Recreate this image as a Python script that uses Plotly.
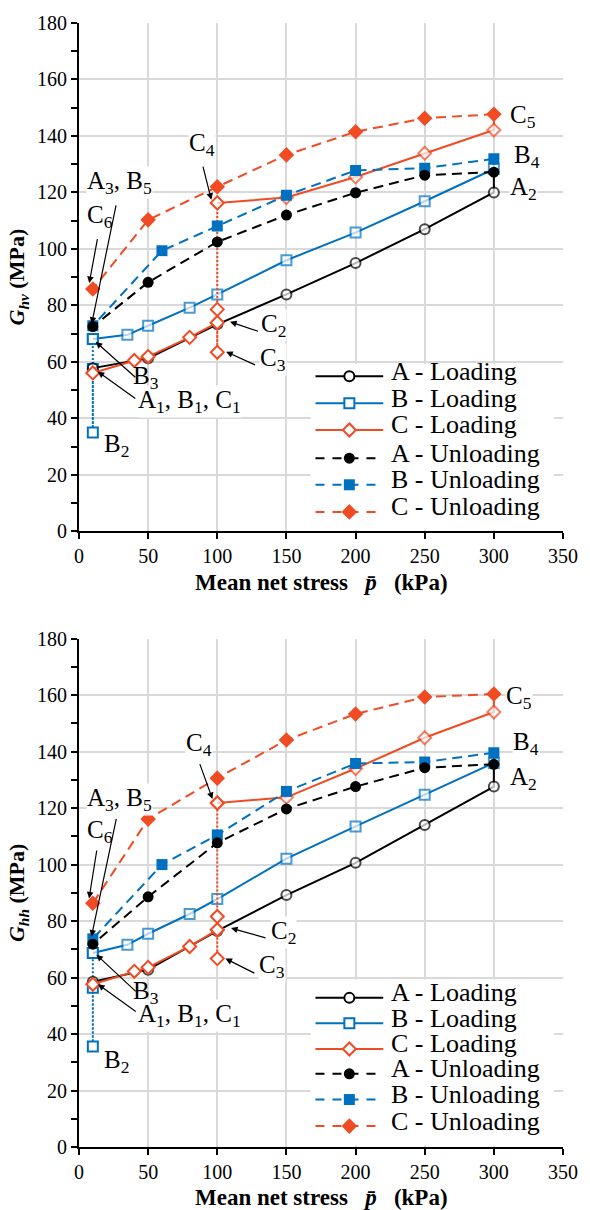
import plotly.graph_objects as go

FONT = "Liberation Serif, Times New Roman, serif"
BLACK = "#000000"
BLUE = "#0070C0"
RED = "#F04B23"
GRID = "#D9D9D9"
DASH = "10px,6px"

# ---- mean net stress (kPa) along each stress path ----
p_A_load = [10, 50, 100, 150, 200, 250, 300]
p_A_unload = [300, 250, 200, 150, 100, 50, 10]
p_B_load = [10, 35, 50, 80, 100, 150, 200, 250, 300]
p_B_unload = [300, 250, 200, 150, 100, 60, 10]
p_C_load = [10, 40, 50, 80, 100]
p_C_reload = [100, 150, 200, 250, 300]
p_C_unload = [300, 250, 200, 150, 100, 50, 10]
p_B_step = 10     # B1 -> B2 -> B3 at constant mean net stress
p_C_step = 100    # C2 -> C3 -> C4 at constant mean net stress

# ---- G_hv (MPa) ----
Ghv_A_load = [57.8, 61.3, 73.3, 83.9, 95.0, 107.0, 120.0]
Ghv_A_unload = [127.2, 126.1, 119.9, 112.0, 102.5, 88.2, 72.5]
Ghv_B_load = [68.1, 69.6, 72.8, 79.2, 83.9, 96.0, 105.8, 116.9, 128.3]
Ghv_B_unload = [131.9, 128.6, 127.8, 119.0, 108.1, 99.4, 72.8]
Ghv_B_step = [57.5, 35.0]             # B1, B2
Ghv_C_load = [56.1, 60.5, 61.9, 68.7, 73.9]
Ghv_C_step = [63.4, 78.6]             # C3, intermediate
Ghv_C_reload = [116.3, 118.2, 125.5, 133.9, 142.1]
Ghv_C_unload = [147.7, 146.3, 141.5, 133.3, 122.0, 110.3, 85.8]

# ---- G_hh (MPa) ----
Ghh_A_load = [58.5, 62.8, 76.5, 89.2, 100.6, 114.0, 127.6]
Ghh_A_unload = [135.5, 134.3, 127.6, 119.7, 107.7, 88.6, 71.8]
Ghh_B_load = [68.7, 71.6, 75.5, 82.5, 87.8, 102.1, 113.5, 124.7, 136.0]
Ghh_B_unload = [139.6, 136.3, 135.8, 125.9, 110.5, 100.0, 73.7]
Ghh_B_step = [56.4, 35.6]
Ghh_C_load = [57.6, 62.2, 63.6, 71.0, 76.9]
Ghh_C_step = [66.7, 81.6]
Ghh_C_reload = [121.8, 123.8, 134.0, 144.9, 154.0]
Ghh_C_unload = [160.4, 159.3, 153.3, 144.1, 130.6, 116.1, 86.3]

x_ticks = [0, 50, 100, 150, 200, 250, 300, 350]
y_ticks = [0, 20, 40, 60, 80, 100, 120, 140, 160, 180]

legend_names = ["A - Loading", "B - Loading", "C - Loading",
                "A - Unloading", "B - Unloading", "C - Unloading"]

fig = go.Figure()


def open_marker(symbol, color, size):
    return dict(symbol=symbol, size=size, color="white",
                line=dict(color=color, width=2))


def solid_marker(symbol, color, size):
    return dict(symbol=symbol, size=size, color=color, line=dict(width=0))


STYLE = {
    "A_load": (BLACK, "solid", open_marker("circle", BLACK, 10)),
    "B_load": (BLUE, "solid", open_marker("square", BLUE, 10)),
    "C_load": (RED, "solid", open_marker("diamond", RED, 10)),
    "A_unload": (BLACK, DASH, solid_marker("circle", BLACK, 11)),
    "B_unload": (BLUE, DASH, solid_marker("square", BLUE, 11)),
    "C_unload": (RED, DASH, solid_marker("diamond", RED, 12)),
}


def series(xa, ya, x, y, key, dash=None, mode="lines+markers", sizes=None):
    color, d, marker = STYLE[key]
    marker = dict(marker)
    if sizes is not None:
        marker["size"] = sizes
    fig.add_trace(go.Scatter(
        x=x, y=y, mode=mode, xaxis=xa, yaxis=ya,
        line=dict(color=color, width=2, dash=dash or d),
        marker=marker, showlegend=False, hoverinfo="skip"))


def panel(xa, ya, d):
    # B path: B1 -> B2 -> B3 (dotted), then loading to 300 kPa
    series(xa, ya, [p_B_step] * 3, d["B_step"] + [d["B_load"][0]], "B_load", dash="2px,2px")
    n = len(p_B_load)
    series(xa, ya, p_B_load + [p_B_unload[0]], d["B_load"] + [d["B_unload"][0]], "B_load",
           sizes=[10] * n + [0])
    # A path
    n = len(p_A_load)
    series(xa, ya, p_A_load + [p_A_unload[0]], d["A_load"] + [d["A_unload"][0]], "A_load",
           sizes=[10] * n + [0])
    # C path: loading to C2, step C2 -> C3 -> C4 (dotted), reloading to 300 kPa
    series(xa, ya, p_C_load, d["C_load"], "C_load")
    step_y = [d["C_load"][-1]] + d["C_step"] + [d["C_reload"][0]]
    series(xa, ya, [p_C_step] * len(step_y), step_y, "C_load", dash="2px,2px")
    n = len(p_C_reload)
    series(xa, ya, p_C_reload + [p_C_unload[0]], d["C_reload"] + [d["C_unload"][0]], "C_load",
           sizes=[10] * n + [0])
    # unloading paths
    series(xa, ya, p_C_unload, d["C_unload"], "C_unload")
    series(xa, ya, p_B_unload, d["B_unload"], "B_unload")
    series(xa, ya, p_A_unload, d["A_unload"], "A_unload")


def key_box(xa, ya, rows):
    # white panel behind the key
    fig.add_trace(go.Scatter(
        x=[167.5, 343.5, 343.5, 167.5, 167.5], y=[0.5, 0.5, 59.3, 59.3, 0.5],
        fill="toself", fillcolor="white", mode="lines", line=dict(width=0),
        xaxis=xa, yaxis=ya, showlegend=False, hoverinfo="skip"))
    keys = ["A_load", "B_load", "C_load", "A_unload", "B_unload", "C_unload"]
    for key, name, yr in zip(keys, legend_names, rows):
        color, d, marker = STYLE[key]
        fig.add_trace(go.Scatter(
            x=[171, 220], y=[yr, yr], mode="lines", xaxis=xa, yaxis=ya,
            line=dict(color=color, width=2, dash="9px,8px" if d != "solid" else "solid"),
            showlegend=False, hoverinfo="skip"))
        fig.add_trace(go.Scatter(
            x=[195.5], y=[yr], mode="markers", xaxis=xa, yaxis=ya, marker=marker,
            showlegend=False, hoverinfo="skip"))
        fig.add_annotation(xref=xa, yref=ya, x=224.5, y=yr, yshift=5, text=name,
                           showarrow=False, xanchor="left", yanchor="middle",
                           font=dict(family=FONT, size=26, color=BLACK))


def label(xa, ya, x, y, text, bg=True):
    fig.add_annotation(xref=xa, yref=ya, x=x, y=y, yshift=7, text=text, showarrow=False,
                       xanchor="left", yanchor="middle",
                       bgcolor="white" if bg else "rgba(0,0,0,0)", borderpad=0,
                       font=dict(family=FONT, size=25, color=BLACK))


def arrow(xa, ya, tail, head):
    fig.add_annotation(xref=xa, yref=ya, axref=xa, ayref=ya,
                       x=head[0], y=head[1], ax=tail[0], ay=tail[1], text="",
                       showarrow=True, arrowhead=2, arrowsize=1.1, arrowwidth=1.2,
                       arrowcolor=BLACK)


top = dict(A_load=Ghv_A_load, A_unload=Ghv_A_unload, B_load=Ghv_B_load,
           B_unload=Ghv_B_unload, B_step=Ghv_B_step, C_load=Ghv_C_load,
           C_step=Ghv_C_step, C_reload=Ghv_C_reload, C_unload=Ghv_C_unload)
bottom = dict(A_load=Ghh_A_load, A_unload=Ghh_A_unload, B_load=Ghh_B_load,
              B_unload=Ghh_B_unload, B_step=Ghh_B_step, C_load=Ghh_C_load,
              C_step=Ghh_C_step, C_reload=Ghh_C_reload, C_unload=Ghh_C_unload)

panel("x", "y", top)
panel("x2", "y2", bottom)
key_box("x", "y", [54.9, 45.4, 35.9, 25.9, 16.5, 6.9])
key_box("x2", "y2", [52.8, 43.8, 34.7, 25.9, 16.8, 7.4])

# point labels (text with white backing drawn first, plain text after)
labels_hv = [(78.7, 134.6, "C<sub>4</sub>", True), (5.0, 120.9, "A<sub>3</sub>, B<sub>5</sub>", True),
             (5.0, 109.0, "C<sub>6</sub>", True), (131.2, 70.5, "C<sub>2</sub>", True),
             (130.5, 58.3, "C<sub>3</sub>", True),
             (41.8, 43.6, "A<sub>1</sub>, B<sub>1</sub>, C<sub>1</sub>", True),
             (38.3, 52.0, "B<sub>3</sub>", False),
             (17.0, 27.9, "B<sub>2</sub>", True), (310.6, 144.5, "C<sub>5</sub>", True),
             (314.2, 130.1, "B<sub>4</sub>", True), (311.3, 118.8, "A<sub>2</sub>", True)]
arrows_hv = [((89.4, 129.7), (95.7, 117.4)), ((13.5, 104.0), (7.4, 87.9)),
             ((27.0, 116.0), (9.2, 73.5)), ((130.5, 70.7), (109.2, 74.2)),
             ((128.4, 58.7), (106.4, 63.6)), ((41.8, 54.1), (12.1, 67.1)),
             ((41.8, 46.7), (13.5, 56.6))]
labels_hh = [(76.4, 140.0, "C<sub>4</sub>", True), (5.0, 120.6, "A<sub>3</sub>, B<sub>5</sub>", True),
             (5.0, 109.2, "C<sub>6</sub>", True), (137.8, 73.5, "C<sub>2</sub>", True),
             (129.6, 61.4, "C<sub>3</sub>", True),
             (41.8, 44.0, "A<sub>1</sub>, B<sub>1</sub>, C<sub>1</sub>", True),
             (38.5, 52.4, "B<sub>3</sub>", False),
             (17.0, 27.8, "B<sub>2</sub>", True), (308.0, 156.5, "C<sub>5</sub>", True),
             (312.8, 140.3, "B<sub>4</sub>", True), (310.9, 128.0, "A<sub>2</sub>", True)]
arrows_hh = [((87.0, 136.1), (96.5, 123.2)), ((13.0, 105.5), (7.3, 88.0)),
             ((27.2, 116.7), (9.0, 74.5)), ((136.0, 73.9), (109.9, 77.5)),
             ((127.9, 61.3), (105.9, 66.7)), ((42.1, 54.6), (12.6, 68.1)),
             ((42.1, 47.6), (13.7, 57.6))]

for xa, ya, labels, arrows in [("x", "y", labels_hv, arrows_hv), ("x2", "y2", labels_hh, arrows_hh)]:
    for x, y, t, bg in labels:
        label(xa, ya, x, y, t, bg)
    for tail, head in arrows:
        arrow(xa, ya, tail, head)

# axis titles
x_title = "<b>Mean net stress\u00a0\u00a0\u00a0<i>p\u0304</i>\u00a0\u00a0\u00a0(kPa)</b>"
for xa, ya, sub in [("x", "y", "hv"), ("x2", "y2", "hh")]:
    fig.add_annotation(xref=xa + " domain", yref=ya + " domain", x=0.5, y=-0.1,
                       text=x_title, showarrow=False, xanchor="center", yanchor="middle",
                       font=dict(family=FONT, size=23, color=BLACK))
    fig.add_annotation(xref="paper", yref=ya + " domain", x=-0.1255, y=0.5,
                       text=f"<b><i>G</i><sub><i>{sub}</i></sub> (MPa)</b>", textangle=-90,
                       showarrow=False, xanchor="center", yanchor="middle",
                       font=dict(family=FONT, size=22, color=BLACK))

xcommon = dict(range=[0, 350], tickvals=x_ticks, showgrid=True, gridcolor=GRID, gridwidth=2,
               zeroline=False, showline=True, linecolor=BLACK, linewidth=2,
               ticks="outside", ticklen=6, tickwidth=2, tickcolor=BLACK,
               tickfont=dict(family=FONT, size=20, color=BLACK))
ycommon = dict(range=[0, 180], tickvals=y_ticks, showgrid=True, gridcolor=GRID, gridwidth=2,
               zeroline=False, showline=True, linecolor=BLACK, linewidth=2,
               ticks="outside", ticklen=6, tickwidth=2, tickcolor=BLACK,
               minor=dict(dtick=10, ticks="outside", ticklen=6, tickwidth=2,
                          tickcolor=BLACK, showgrid=False),
               tickfont=dict(family=FONT, size=20, color=BLACK))

fig.update_layout(
    width=590, height=1210,
    margin=dict(l=79, r=17, t=15, b=63),
    paper_bgcolor="white", plot_bgcolor="white",
    showlegend=False,
    xaxis=dict(domain=[0, 1], anchor="y", **xcommon),
    yaxis=dict(domain=[0.5477, 1], anchor="x", **ycommon),
    xaxis2=dict(domain=[0, 1], anchor="y2", **xcommon),
    yaxis2=dict(domain=[0, 0.4523], anchor="x2", **ycommon),
    font=dict(family=FONT, color=BLACK),
)

fig.write_html("out.html")
